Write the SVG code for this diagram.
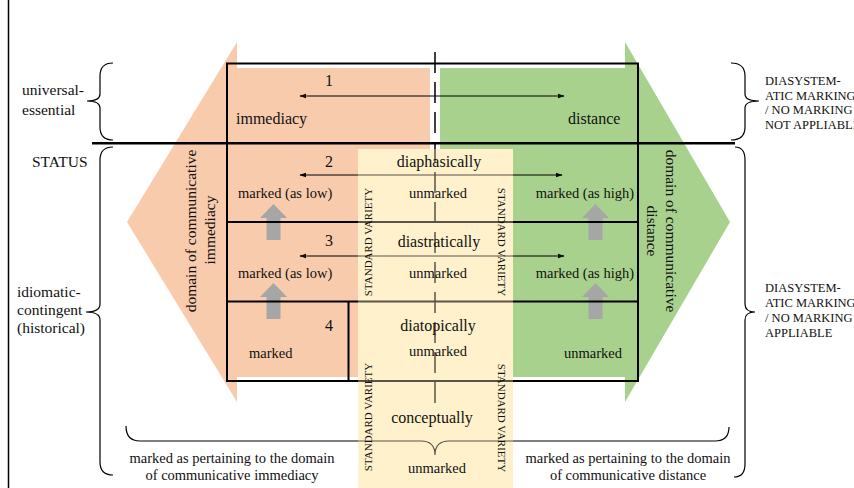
<svg xmlns="http://www.w3.org/2000/svg" width="854" height="488" viewBox="0 0 854 488">
<defs>
<style>
.t{font-family:"Liberation Serif","Times New Roman",serif;fill:#111}
.big{font-size:16px}
.lab{font-size:15.5px}
.med{font-size:14.5px}
.sv{font-size:11px}
.cap{font-size:12.5px}
.mid{text-anchor:middle}
.end{text-anchor:end}
.box{fill:none;stroke:#000;stroke-width:2}
.br{fill:none;stroke:#000;stroke-width:1.2}
.ar{stroke:#000;stroke-width:1;fill:none;marker-start:url(#ah);marker-end:url(#ah)}
.up{fill:#A6A6A6}
.or{fill:#F8CBAD}
.gr{fill:#A9D18E}
.ye{fill:#FFF2CC}
</style>
<marker id="ah" viewBox="0 0 10 10" refX="9" refY="5" markerWidth="7" markerHeight="7" orient="auto-start-reverse" markerUnits="userSpaceOnUse"><path d="M0,1.5 L10,5 L0,8.5z" fill="#000"/></marker>
<path id="upa" d="M0,0 L13.5,14 L7,14 L7,36 L-7,36 L-7,14 L-13.5,14Z"/>
</defs>
<rect width="854" height="488" fill="#fff"/>
<line x1="8.5" y1="0" x2="8.5" y2="488" stroke="#000" stroke-width="1.5"/>

<g id="immediacy-domain">
<polygon class="or" points="237,42 127,222 237,402"/>
<rect class="or" x="227" y="68" width="203" height="309"/>
</g>
<g id="distance-domain">
<polygon class="gr" points="625,42 730,222 625,402"/>
<rect class="gr" x="440" y="68" width="198" height="309"/>
</g>
<g id="standard-variety">
<rect class="ye" x="358" y="149" width="155" height="339"/>
</g>

<g id="gray-arrows">
<use href="#upa" class="up" x="273.5" y="204"/>
<use href="#upa" class="up" x="273.5" y="283"/>
<use href="#upa" class="up" x="595.5" y="204"/>
<use href="#upa" class="up" x="595.5" y="283"/>
</g>

<g id="connectors">
<rect class="box" x="227" y="63.5" width="411" height="317.5"/>
<line x1="227" y1="222" x2="638" y2="222" stroke="#000" stroke-width="2"/>
<line x1="227" y1="301.5" x2="638" y2="301.5" stroke="#000" stroke-width="2"/>
<line x1="348.5" y1="301.5" x2="348.5" y2="381" stroke="#000" stroke-width="2"/>
<line x1="92" y1="143.3" x2="735" y2="143.3" stroke="#000" stroke-width="2.6"/>
<line x1="435" y1="52" x2="435" y2="403" stroke="#000" stroke-width="1.5" stroke-dasharray="21 9"/>
<line class="ar" x1="300" y1="96" x2="564" y2="96"/>
<line class="ar" x1="300" y1="175" x2="562" y2="175"/>
<line class="ar" x1="300" y1="256" x2="564" y2="256"/>
<path class="br" d="M126,426 Q126,441 140,441 L421,441 Q435,441 435,455 Q435,441 449,441 L715,441 Q729,441 729,427"/>
</g>
<rect x="358" y="149" width="155" height="339" fill="#FFF2CC" opacity="0.35"/>

<g id="braces">
<path class="br" d="M113,63 Q100,63 100,76 L100,94 Q100,101 87,101 Q100,101 100,108 L100,127 Q100,140 113,140"/>
<path class="br" d="M113,147 Q100,147 100,160 L100,304 Q100,312 86,312 Q100,312 100,320 L100,462 Q100,475 113,475"/>
<path class="br" d="M731,63 Q745,63 745,76 L745,94 Q745,101 759,101 Q745,101 745,108 L745,127 Q745,140 731,140"/>
<path class="br" d="M735,147 Q745,147 745,160 L745,304 Q745,312 755,312 Q745,312 745,320 L745,464 Q745,477 734,477"/>
</g>

<g id="row1">
<text class="t big mid" x="329" y="86">1</text>
<text class="t big" x="236" y="124">immediacy</text>
<text class="t big" x="568" y="124">distance</text>
</g>
<g id="row2">
<text class="t big mid" x="329" y="167">2</text>
<text class="t big mid" x="439" y="167">diaphasically</text>
<text class="t med" x="238" y="198">marked (as low)</text>
<text class="t med mid" x="438" y="198">unmarked</text>
<text class="t med end" x="634" y="198">marked (as high)</text>
</g>
<g id="row3">
<text class="t big mid" x="329" y="246">3</text>
<text class="t big mid" x="439" y="247">diastratically</text>
<text class="t med" x="238" y="278">marked (as low)</text>
<text class="t med mid" x="438" y="278">unmarked</text>
<text class="t med end" x="634" y="278">marked (as high)</text>
</g>
<g id="row4">
<text class="t big mid" x="329" y="331">4</text>
<text class="t big mid" x="438" y="331">diatopically</text>
<text class="t med mid" x="438" y="356">unmarked</text>
<text class="t med" x="249" y="358">marked</text>
<text class="t med" x="564" y="358">unmarked</text>
</g>
<g id="conceptually">
<text class="t big mid" x="432" y="423">conceptually</text>
<text class="t med mid" x="437" y="473">unmarked</text>
</g>
<g id="standard-variety-labels">
<text class="t sv mid" transform="translate(372,242) rotate(-90)">STANDARD VARIETY</text>
<text class="t sv mid" transform="translate(498,242) rotate(90)">STANDARD VARIETY</text>
<text class="t sv mid" transform="translate(372,417) rotate(-90)">STANDARD VARIETY</text>
<text class="t sv mid" transform="translate(498,418) rotate(90)">STANDARD VARIETY</text>
</g>
<g id="domain-labels">
<text class="t lab mid" transform="translate(196,231) rotate(-90)">domain of communicative</text>
<text class="t lab mid" transform="translate(215,230) rotate(-90)">immediacy</text>
<text class="t lab mid" transform="translate(666,231) rotate(90)">domain of communicative</text>
<text class="t lab mid" transform="translate(647,231) rotate(90)">distance</text>
</g>
<g id="status-labels">
<text class="t lab" x="22" y="95">universal-</text>
<text class="t lab" x="22" y="115">essential</text>
<text class="t lab" x="32" y="167">STATUS</text>
<text class="t lab" x="17" y="297">idiomatic-</text>
<text class="t lab" x="17" y="315">contingent</text>
<text class="t lab" x="17" y="333">(historical)</text>
</g>
<g id="marking-labels">
<text class="t cap" x="765" y="85">DIASYSTEM-</text>
<text class="t cap" x="765" y="100">ATIC MARKING</text>
<text class="t cap" x="765" y="114">/ NO MARKING</text>
<text class="t cap" x="765" y="129">NOT APPLIABLE</text>
<text class="t cap" x="765" y="292">DIASYSTEM-</text>
<text class="t cap" x="765" y="307">ATIC MARKING</text>
<text class="t cap" x="765" y="322">/ NO MARKING</text>
<text class="t cap" x="765" y="337">APPLIABLE</text>
</g>
<g id="bottom-labels">
<text class="t med mid" x="232" y="463">marked as pertaining to the domain</text>
<text class="t med mid" x="232" y="480">of communicative immediacy</text>
<text class="t med mid" x="628" y="463">marked as pertaining to the domain</text>
<text class="t med mid" x="628" y="480">of communicative distance</text>
</g>
</svg>
